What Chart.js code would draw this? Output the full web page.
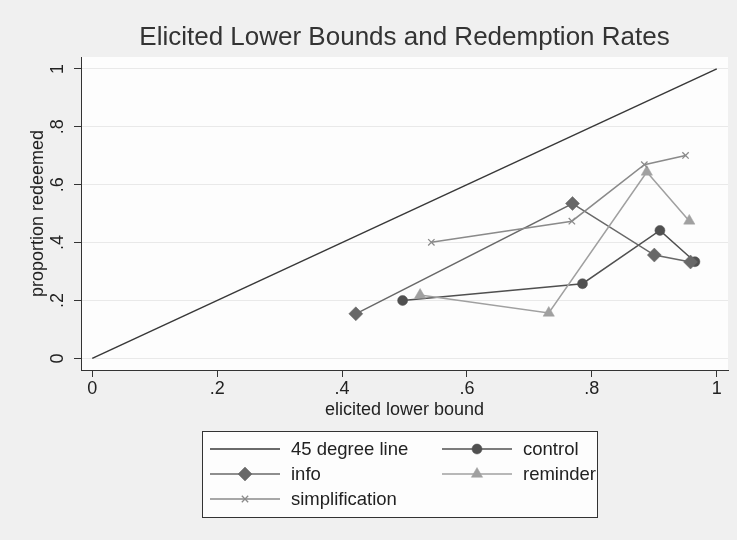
<!DOCTYPE html>
<html><head><meta charset="utf-8">
<script src="https://cdn.jsdelivr.net/npm/chart.js@4/dist/chart.umd.min.js"></script>
<style>html,body{margin:0;padding:0;background:#f0f0f0;} canvas{display:block;}</style>
</head><body>
<canvas id="c" width="737" height="540"></canvas>
<script>
const titleText = 'Elicited Lower Bounds and Redemption Rates';
const xAxisTitle = 'elicited lower bound';
const yAxisTitle = 'proportion redeemed';
const tickValues = [0, 0.2, 0.4, 0.6, 0.8, 1];
const tickLabels = ['0', '.2', '.4', '.6', '.8', '1'];
const seriesNames = ['45 degree line', 'control', 'info', 'reminder', 'simplification'];

const diagX = [0, 1];
const diagY = [0, 1];
const controlX = [0.497, 0.785, 0.909, 0.965];
const controlY = [0.200, 0.258, 0.442, 0.334];
const infoX = [0.422, 0.769, 0.900, 0.958];
const infoY = [0.154, 0.535, 0.357, 0.333];
const reminderX = [0.525, 0.731, 0.888, 0.956];
const reminderY = [0.219, 0.157, 0.644, 0.475];
const simplificationX = [0.543, 0.768, 0.884, 0.950];
const simplificationY = [0.401, 0.474, 0.669, 0.701];

const FONT = '"Liberation Sans", Arial, Helvetica, sans-serif';
const zip = (xs, ys) => xs.map((x, i) => ({x: x, y: ys[i]}));

function series(label, xs, ys, color, style, radius, order, lw) {
  return {
    label: label, data: zip(xs, ys), showLine: true, tension: 0,
    borderColor: color, backgroundColor: color, borderWidth: lw || 1.5,
    pointStyle: style, pointRadius: radius, pointHoverRadius: radius,
    pointBackgroundColor: color, pointBorderColor: color,
    pointBorderWidth: style === 'crossRot' ? 1.3 : 0.5, order: order
  };
}

const datasets = [
  series(seriesNames[0], diagX, diagY, '#383838', false, 0, 5, 1.5),
  series(seriesNames[1], controlX, controlY, '#505050', 'circle', 5, 4),
  series(seriesNames[2], infoX, infoY, '#686868', 'rectRot', 7, 3),
  series(seriesNames[3], reminderX, reminderY, '#a0a0a0', 'triangle', 6.5, 2),
  series(seriesNames[4], simplificationX, simplificationY, '#8a8a8a', 'crossRot', 4.5, 1)
];

function drawMarker(ctx, ds, x, y) {
  if (!ds.pointStyle || !ds.pointRadius) return;
  ctx.save();
  ctx.fillStyle = ds.pointBackgroundColor;
  ctx.strokeStyle = ds.pointBorderColor;
  ctx.lineWidth = ds.pointBorderWidth;
  Chart.helpers.drawPoint(ctx, {pointStyle: ds.pointStyle, radius: ds.pointRadius,
    rotation: 0, borderWidth: ds.pointBorderWidth}, x, y);
  ctx.restore();
}

const bgPlugin = {
  id: 'bg',
  beforeDraw(chart) {
    const ctx = chart.ctx, a = chart.chartArea;
    ctx.save();
    ctx.fillStyle = '#f0f0f0';
    ctx.fillRect(0, 0, chart.width, chart.height);
    ctx.fillStyle = '#fdfdfd';
    ctx.fillRect(a.left, a.top, a.right - a.left, a.bottom - a.top);
    ctx.restore();
  }
};

const titlePlugin = {
  id: 'stataTitle',
  afterDraw(chart) {
    const ctx = chart.ctx, a = chart.chartArea;
    ctx.save();
    ctx.font = '26px ' + FONT;
    ctx.fillStyle = '#333333';
    ctx.textAlign = 'center';
    ctx.textBaseline = 'alphabetic';
    ctx.fillText(titleText, (a.left + a.right) / 2, 45);
    ctx.restore();
  }
};

const legendPlugin = {
  id: 'stataLegend',
  afterDraw(chart) {
    const ctx = chart.ctx;
    const box = {x: 202.5, y: 431.5, w: 395, h: 86};
    const cols = [210, 442];
    const rows = [449, 474, 499];
    const sampleW = 70, textGap = 11;
    ctx.save();
    ctx.fillStyle = '#fdfdfd';
    ctx.fillRect(box.x, box.y, box.w, box.h);
    ctx.strokeStyle = '#333333';
    ctx.lineWidth = 1;
    ctx.strokeRect(box.x, box.y, box.w, box.h);
    chart.data.datasets.forEach((ds, i) => {
      const cx = cols[i % 2], cy = rows[Math.floor(i / 2)];
      ctx.strokeStyle = ds.borderColor;
      ctx.lineWidth = ds.borderWidth;
      ctx.beginPath();
      ctx.moveTo(cx, cy);
      ctx.lineTo(cx + sampleW, cy);
      ctx.stroke();
      drawMarker(ctx, ds, cx + sampleW / 2, cy);
      ctx.font = '18.5px ' + FONT;
      ctx.fillStyle = '#222222';
      ctx.textAlign = 'left';
      ctx.textBaseline = 'middle';
      ctx.fillText(ds.label, cx + sampleW + textGap, cy + 1);
    });
    ctx.restore();
  }
};

const setTicks = s => { s.ticks = tickValues.map(v => ({value: v})); };
const tickCb = (v, i) => tickLabels[i];

new Chart(document.getElementById('c'), {
  type: 'scatter',
  data: {datasets: datasets},
  plugins: [bgPlugin, titlePlugin, legendPlugin],
  options: {
    responsive: false, animation: false, events: [],
    devicePixelRatio: 1,
    layout: {padding: {top: 57, right: 9, bottom: 110, left: 0}},
    plugins: {legend: {display: false}, tooltip: {enabled: false}, title: {display: false}},
    scales: {
      x: {
        type: 'linear', min: -0.018, max: 1.018,
        afterBuildTicks: setTicks,
        afterFit: s => { s.height = 60; },
        ticks: {callback: tickCb, font: {size: 18, family: FONT}, color: '#222222',
                padding: 1, maxRotation: 0, autoSkip: false},
        grid: {drawOnChartArea: false, drawTicks: true, tickLength: 7, tickColor: '#333333', tickWidth: 1},
        border: {display: true, color: '#333333', width: 1},
        title: {display: true, text: xAxisTitle, font: {size: 18, family: FONT}, color: '#222222',
                padding: {top: 0, bottom: 9}}
      },
      y: {
        type: 'linear', min: -0.040, max: 1.041,
        afterBuildTicks: setTicks,
        afterFit: s => { s.width = 81; },
        ticks: {callback: tickCb, font: {size: 18, family: FONT}, color: '#222222',
                padding: 8.5, minRotation: 90, maxRotation: 90, crossAlign: 'center', autoSkip: false},
        grid: {color: '#e9e9e9', lineWidth: 1, drawTicks: true, tickLength: 7, tickColor: '#333333', tickWidth: 1},
        border: {display: true, color: '#333333', width: 1},
        title: {display: true, text: yAxisTitle, font: {size: 18, family: FONT}, color: '#222222',
                padding: {top: 27, bottom: 0}}
      }
    }
  }
});
</script>
</body></html>
